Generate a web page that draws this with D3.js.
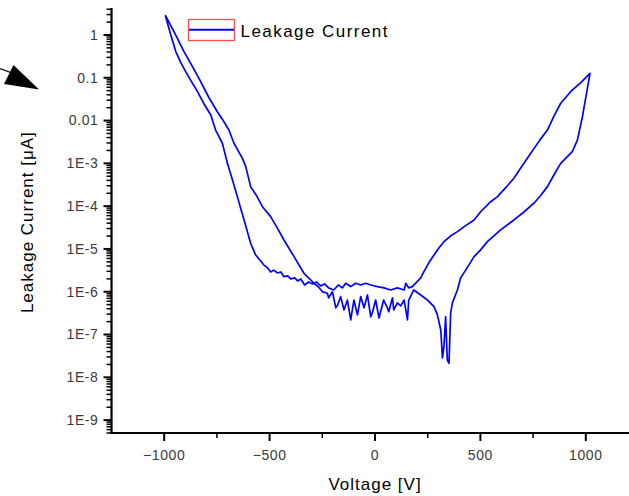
<!DOCTYPE html>
<html>
<head>
<meta charset="utf-8">
<script src="https://cdn.jsdelivr.net/npm/d3@7"></script>
<style>
  html, body { margin: 0; padding: 0; background: #fff; }
  svg { display: block; }
  text { font-family: "Liberation Sans", Arial, sans-serif; }
</style>
</head>
<body>
<svg id="chart" width="629" height="496"></svg>
<script>
// ---- data ----
const voltage = [
  -995, -970, -945, -920, -898, -870, -842, -810, -779, -756, -724, -700, -675, -653, -637, -621, -605, -590, -566,
  -527, -509, -495, -481, -462, -447, -432, -414, -400, -381, -367, -352,
  -334, -315, -296, -277, -258, -239, -220, -196,
  -173, -155, -139, -115, -92, -68, -44, -20, 11, 43, 74, 106, 138, 146, 160, 177,
  217, 232, 256, 280, 303, 327, 358, 391, 430, 470, 501, 549, 581, 620, 659, 700, 739, 780, 818, 850, 881, 928, 976, 1020,
  984, 960, 936, 881, 850, 818, 785, 754, 705, 659, 596, 533, 501, 470, 430, 406, 391, 367, 359,
  351, 343, 335, 327, 320, 312, 296, 280, 249, 217, 184,
  160, 154, 138, 122, 106, 89, 83, 65, 59, 41, 19, 3, -11, -20, -36, -52, -68,
  -83, -100, -115, -131, -147, -163, -177, -186, -202, -220, -226, -248, -266, -289,
  -337, -384, -432, -465, -495, -534, -560, -590, -613, -629, -669, -693, -720, -748, -790, -827, -865, -906, -950, -995
];
const current = [
  2.9, 1.05, 0.41, 0.22, 0.139, 0.08, 0.0473, 0.024, 0.0135, 6.0e-3, 2.95e-3, 1.0e-3, 3.9e-4, 1.67e-4, 8.8e-5, 4.76e-5, 2.5e-5, 1.36e-5, 7.2e-6,
  4.2e-6, 3.6e-6, 2.9e-6, 3.2e-6, 2.75e-6, 2.9e-6, 2.25e-6, 2.34e-6, 1.99e-6, 2.1e-6, 1.79e-6, 1.99e-6,
  1.44e-6, 1.69e-6, 1.52e-6, 1.69e-6, 1.37e-6, 1.52e-6, 1.23e-6, 1.1e-6,
  1.44e-6, 1.23e-6, 1.58e-6, 1.32e-6, 1.58e-6, 1.44e-6, 1.58e-6, 1.44e-6, 1.32e-6, 1.23e-6, 1.1e-6, 1.23e-6, 1.1e-6, 1.58e-6, 1.23e-6, 1.32e-6,
  2.1e-6, 2.95e-6, 4.8e-6, 7.2e-6, 1.05e-5, 1.48e-5, 2.0e-5, 2.54e-5, 3.5e-5, 4.76e-5, 7.4e-5, 1.27e-4, 1.67e-4, 2.7e-4, 4.5e-4, 9.0e-4, 1.72e-3, 3.4e-3, 6.0e-3, 1.3e-2, 0.0254, 0.0473, 0.0769, 0.127,
  0.0123, 3.5e-3, 1.87e-3, 1.0e-3, 5.5e-4, 2.86e-4, 1.75e-4, 1.17e-4, 7.2e-5, 4.76e-5, 2.78e-5, 1.48e-5, 9.5e-6, 6.6e-6, 3.2e-6, 2.1e-6, 1.1e-6, 5.5e-7, 3.2e-7,
  2.13e-8, 2.55e-8, 2.6e-7, 5.2e-8, 2.84e-8, 1.28e-7, 2.87e-7, 4.5e-7, 6.4e-7, 8.4e-7, 1.1e-6,
  6.4e-7, 2.2e-7, 6.4e-7, 4.66e-7, 5.5e-7, 3.76e-7, 7.2e-7, 3.4e-7, 4.2e-7, 6.4e-7, 2.44e-7, 6.4e-7, 3.4e-7, 2.6e-7, 8.4e-7, 4.2e-7, 7.7e-7,
  2.87e-7, 6.4e-7, 2.2e-7, 6.4e-7, 3.76e-7, 7.7e-7, 4.9e-7, 4.2e-7, 1.0e-6, 7.2e-7, 9.2e-7, 9.9e-7, 1.26e-6, 1.58e-6,
  2.7e-6, 6.6e-6, 1.62e-5, 3.2e-5, 5.7e-5, 9.7e-5, 1.7e-4, 2.86e-4, 8.4e-4, 1.31e-3, 2.95e-3, 6.0e-3, 1.0e-2, 0.0161, 0.036, 0.081, 0.18, 0.41, 1.1, 2.9
];
const xMajorTicks = [-1000, -500, 0, 500, 1000];
const xMinorTicks = [-750, -250, 250, 750];
const yMajorTicks = [1e-9, 1e-8, 1e-7, 1e-6, 1e-5, 1e-4, 1e-3, 0.01, 0.1, 1];
const yTickLabels = ["1E-9", "1E-8", "1E-7", "1E-6", "1E-5", "1E-4", "1E-3", "0.01", "0.1", "1"];
const seriesName = "Leakage Current";
const xTitle = "Voltage [V]";
const yTitle = "Leakage Current [\u03BCA]";

// ---- layout ----
const svg = d3.select("#chart");
const W = 629, H = 496;
svg.append("rect").attr("width", W).attr("height", H).attr("fill", "#fff");

const x = d3.scaleLinear().domain([-1250, 1250]).range([111.5, 638.5]);
const y = d3.scaleLog().domain([5e-10, 4.27]).range([433, 8]);
const x0 = x.range()[0], y0 = y.range()[0];

const data = voltage.map((v, i) => ({ v, c: current[i] }));

// minor y ticks (2..9 in each decade)
const yMinor = [];
for (let d = -10; d <= 0; d++) {
  for (let m = 2; m <= 9; m++) {
    const val = m * Math.pow(10, d);
    if (val >= 5e-10 && val <= 4.27) yMinor.push(val);
  }
}

const axisColor = "#000";
const labelColor = "#3a3a3a";

// y ticks
svg.append("g").selectAll("line").data(yMinor).join("line")
  .attr("x1", x0 - 5).attr("x2", x0)
  .attr("y1", d => y(d)).attr("y2", d => y(d))
  .attr("stroke", axisColor).attr("stroke-width", 1.5);
svg.append("g").selectAll("line").data(yMajorTicks).join("line")
  .attr("x1", x0 - 8).attr("x2", x0)
  .attr("y1", d => y(d)).attr("y2", d => y(d))
  .attr("stroke", axisColor).attr("stroke-width", 2);
svg.append("g").selectAll("text").data(yMajorTicks).join("text")
  .attr("x", x0 - 13).attr("y", d => y(d))
  .attr("dy", "0.35em")
  .attr("text-anchor", "end")
  .attr("fill", labelColor)
  .style("font-size", "14px")
  .style("letter-spacing", "0.6px")
  .text((d, i) => yTickLabels[i]);

// x ticks
svg.append("g").selectAll("line").data(xMinorTicks).join("line")
  .attr("x1", d => x(d)).attr("x2", d => x(d))
  .attr("y1", y0).attr("y2", y0 + 5)
  .attr("stroke", axisColor).attr("stroke-width", 1.5);
svg.append("g").selectAll("line").data(xMajorTicks).join("line")
  .attr("x1", d => x(d)).attr("x2", d => x(d))
  .attr("y1", y0).attr("y2", y0 + 8)
  .attr("stroke", axisColor).attr("stroke-width", 2);
svg.append("g").selectAll("text").data(xMajorTicks).join("text")
  .attr("x", d => x(d)).attr("y", y0 + 27)
  .attr("text-anchor", "middle")
  .attr("fill", labelColor)
  .style("font-size", "14px")
  .style("letter-spacing", "0.6px")
  .text(d => d3.format("d")(d));

// axis lines
svg.append("line")
  .attr("x1", x0).attr("x2", x0)
  .attr("y1", y.range()[1]).attr("y2", y0 + 1)
  .attr("stroke", axisColor).attr("stroke-width", 2.2);
svg.append("line")
  .attr("x1", x0 - 1).attr("x2", W)
  .attr("y1", y0).attr("y2", y0)
  .attr("stroke", axisColor).attr("stroke-width", 2.2);

// data line
const line = d3.line().x(d => x(d.v)).y(d => y(d.c));
svg.append("path")
  .datum(data)
  .attr("d", line)
  .attr("fill", "none")
  .attr("stroke", "#0000ff")
  .attr("stroke-width", 1.7)
  .attr("stroke-linejoin", "round");

// axis titles
svg.append("text")
  .attr("x", x(0))
  .attr("y", 490)
  .attr("text-anchor", "middle")
  .style("font-size", "17px")
  .style("letter-spacing", "1px")
  .attr("fill", "#000")
  .text(xTitle);

svg.append("text")
  .attr("transform", `translate(33,${y(1e-4) + 16}) rotate(-90)`)
  .attr("text-anchor", "middle")
  .style("font-size", "17px")
  .style("letter-spacing", "1px")
  .attr("fill", "#000")
  .text(yTitle);

// legend
const lg = svg.append("g");
lg.append("rect")
  .attr("x", 188.5).attr("y", 19.5).attr("width", 46).attr("height", 21)
  .attr("fill", "none").attr("stroke", "#ff4d4d").attr("stroke-width", 1.3);
lg.append("line")
  .attr("x1", 189).attr("x2", 234).attr("y1", 29.8).attr("y2", 29.8)
  .attr("stroke", "#0000ff").attr("stroke-width", 2);
lg.append("text")
  .attr("x", 240.5).attr("y", 36.5)
  .style("font-size", "17px")
  .style("letter-spacing", "1.45px")
  .attr("fill", "#000")
  .text(seriesName);

// stray arrow annotation at the left edge
svg.append("line")
  .attr("x1", 0).attr("y1", 68.5).attr("x2", 20).attr("y2", 76)
  .attr("stroke", "#000").attr("stroke-width", 1.2);
svg.append("polygon")
  .attr("points", "13.5,65 4,84 39,89.5")
  .attr("fill", "#000");
</script>
</body>
</html>
